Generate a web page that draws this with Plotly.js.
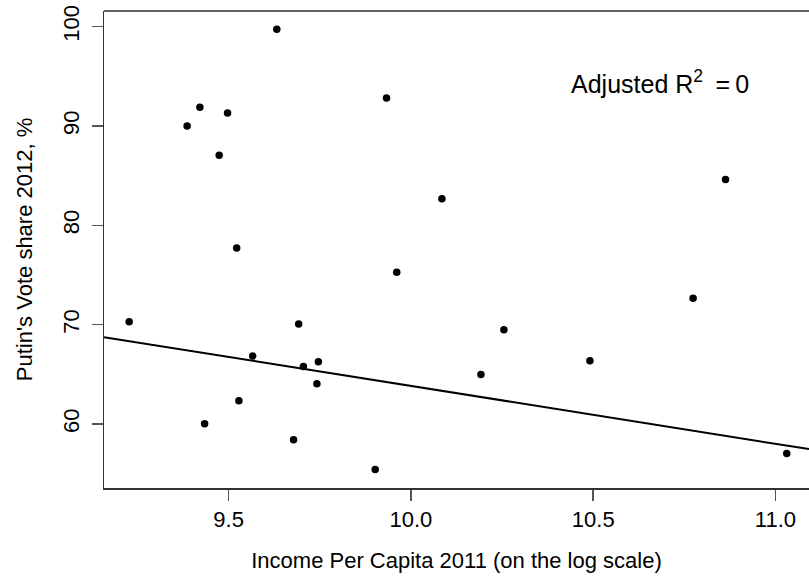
<!DOCTYPE html>
<html>
<head>
<meta charset="utf-8">
<script src="https://cdn.plot.ly/plotly-3.0.1.min.js"></script>
<style>html,body{margin:0;padding:0;background:#fff;}</style>
</head>
<body>
<div id="chart" style="width:809px;height:579px;"></div>
<script>
// Log income per capita 2011 (x) and Putin's vote share 2012, % (y)
const logIncome = [9.227, 9.386, 9.421, 9.434, 9.474, 9.497, 9.522, 9.528, 9.566, 9.632,
                   9.678, 9.692, 9.705, 9.742, 9.746, 9.902, 9.933, 9.961, 10.085, 10.192,
                   10.255, 10.491, 10.774, 10.863, 11.031];
const voteShare = [70.29, 90.0, 91.89, 60.03, 87.06, 91.32, 77.71, 62.34, 66.84, 99.74,
                   58.42, 70.06, 65.79, 64.05, 66.27, 55.43, 92.83, 75.29, 82.67, 64.99,
                   69.49, 66.37, 72.65, 84.61, 57.04];
// Fitted regression line coefficients
const fitIntercept = 122.14;
const fitSlope = -5.83;
const xRange = [9.158, 11.092];
const yRange = [53.56, 101.58];
const xTicks = [9.5, 10.0, 10.5, 11.0];
const yTicks = [60, 70, 80, 90, 100];
const annotationText = "Adjusted R<sup>2</sup>\u2002=\u20090";

const fitX = xRange.slice();
const fitY = fitX.map(x => fitIntercept + fitSlope * x);

const font = {family: "Liberation Sans, Arial, sans-serif", size: 22, color: "#000"};
const annFont = {family: "Liberation Sans, Arial, sans-serif", size: 25, color: "#000"};

Plotly.newPlot("chart", [
  {x: fitX, y: fitY, type: "scatter", mode: "lines",
   line: {color: "#000", width: 2}, hoverinfo: "skip", showlegend: false},
  {x: logIncome, y: voteShare, type: "scatter", mode: "markers",
   marker: {color: "#000", size: 7.5}, showlegend: false}
], {
  width: 809, height: 579,
  margin: {l: 104, r: 0, t: 11, b: 91, pad: 0},
  paper_bgcolor: "#fff", plot_bgcolor: "#fff",
  font: font,
  showlegend: false,
  xaxis: {
    range: xRange, tickvals: xTicks, ticktext: xTicks.map(v => v.toFixed(1)),
    showgrid: false, zeroline: false,
    showline: true, linecolor: "#333", linewidth: 1.5,
    ticks: "outside", ticklen: 11, tickwidth: 1.5, tickcolor: "#555",
    tickfont: font,
    title: {text: "Income Per Capita 2011 (on the log scale)", font: font, standoff: 21}
  },
  yaxis: {
    range: yRange, tickvals: yTicks, ticktext: yTicks.map(String),
    tickangle: -90, ticklabelstandoff: 4,
    showgrid: false, zeroline: false,
    showline: true, linecolor: "#333", linewidth: 1.5,
    ticks: "outside", ticklen: 11, tickwidth: 1.5, tickcolor: "#555",
    tickfont: font,
    title: {text: "Putin's Vote share 2012, %", font: font, standoff: 20}
  },
  shapes: [
    {type: "line", xref: "paper", yref: "paper", x0: 0, x1: 1, y0: 1, y1: 1,
     line: {color: "#666", width: 2}}
  ],
  annotations: [
    {x: 10.433, y: 94.4, xref: "x", yref: "y", text: annotationText,
     showarrow: false, xanchor: "left", yanchor: "middle", font: annFont}
  ]
}, {displayModeBar: false, staticPlot: true});
</script>
</body>
</html>
